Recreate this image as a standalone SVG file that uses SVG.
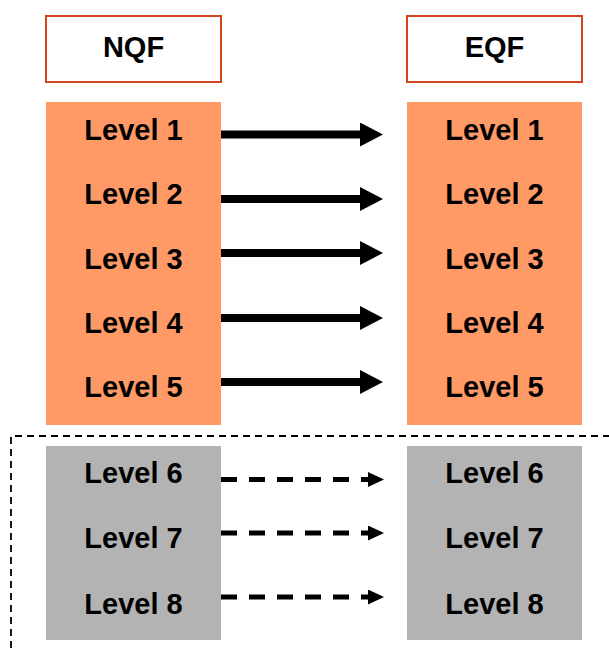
<svg xmlns="http://www.w3.org/2000/svg" width="609" height="648" viewBox="0 0 609 648">
<style>
.hdr{fill:#fff;stroke:#D2441A;stroke-width:2}
.or{fill:#FF9966}
.gr{fill:#B3B3B3}
text{font-family:"Liberation Sans",Arial,sans-serif;font-weight:bold;font-size:29px;fill:#000;text-anchor:middle}
.solid{stroke:#000;stroke-width:8;fill:none}
.dash{stroke:#000;stroke-width:5;stroke-dasharray:16 12;fill:none}
.frame{stroke:#000;stroke-width:1.8;stroke-dasharray:7 5;fill:none}
</style>
<defs>
<marker id="hs" markerUnits="userSpaceOnUse" markerWidth="23" markerHeight="24" refX="2" refY="12" orient="auto"><path d="M0,0 L23,12 L0,24 z" fill="#000"/></marker>
<marker id="hd" markerUnits="userSpaceOnUse" markerWidth="16" markerHeight="15" refX="2" refY="7.5" orient="auto"><path d="M0,0 L16,7.5 L0,15 z" fill="#000"/></marker>
</defs>
<g id="frame"><path class="frame" d="M11,648 L11,436 L609,436"/></g>
<g id="nqf"><rect class="hdr" x="46" y="16" width="175" height="66"/><text x="133.5" y="57">NQF</text></g>
<g id="eqf"><rect class="hdr" x="407" y="16" width="175" height="66"/><text x="494.5" y="57">EQF</text></g>
<g id="nqf-levels-1-5"><rect class="or" x="46" y="102" width="175" height="323"/>
<text x="133.5" y="140">Level 1</text><text x="133.5" y="204">Level 2</text><text x="133.5" y="269">Level 3</text><text x="133.5" y="333">Level 4</text><text x="133.5" y="397">Level 5</text></g>
<g id="eqf-levels-1-5"><rect class="or" x="407" y="102" width="175" height="323"/>
<text x="494.5" y="140">Level 1</text><text x="494.5" y="204">Level 2</text><text x="494.5" y="269">Level 3</text><text x="494.5" y="333">Level 4</text><text x="494.5" y="397">Level 5</text></g>
<g id="nqf-levels-6-8"><rect class="gr" x="46" y="446" width="175" height="194"/>
<text x="133.5" y="483">Level 6</text><text x="133.5" y="548">Level 7</text><text x="133.5" y="614">Level 8</text></g>
<g id="eqf-levels-6-8"><rect class="gr" x="407" y="446" width="175" height="194"/>
<text x="494.5" y="483">Level 6</text><text x="494.5" y="548">Level 7</text><text x="494.5" y="614">Level 8</text></g>
<g id="connectors">
<line class="solid" x1="221" y1="134.5" x2="362" y2="134.5" marker-end="url(#hs)"/>
<line class="solid" x1="221" y1="199" x2="362" y2="199" marker-end="url(#hs)"/>
<line class="solid" x1="221" y1="253" x2="362" y2="253" marker-end="url(#hs)"/>
<line class="solid" x1="221" y1="318" x2="362" y2="318" marker-end="url(#hs)"/>
<line class="solid" x1="221" y1="382" x2="362" y2="382" marker-end="url(#hs)"/>
<line class="dash" x1="221" y1="479.5" x2="370" y2="479.5" marker-end="url(#hd)"/>
<line class="dash" x1="221" y1="533" x2="370" y2="533" marker-end="url(#hd)"/>
<line class="dash" x1="221" y1="597" x2="370" y2="597" marker-end="url(#hd)"/>
</g>
</svg>
